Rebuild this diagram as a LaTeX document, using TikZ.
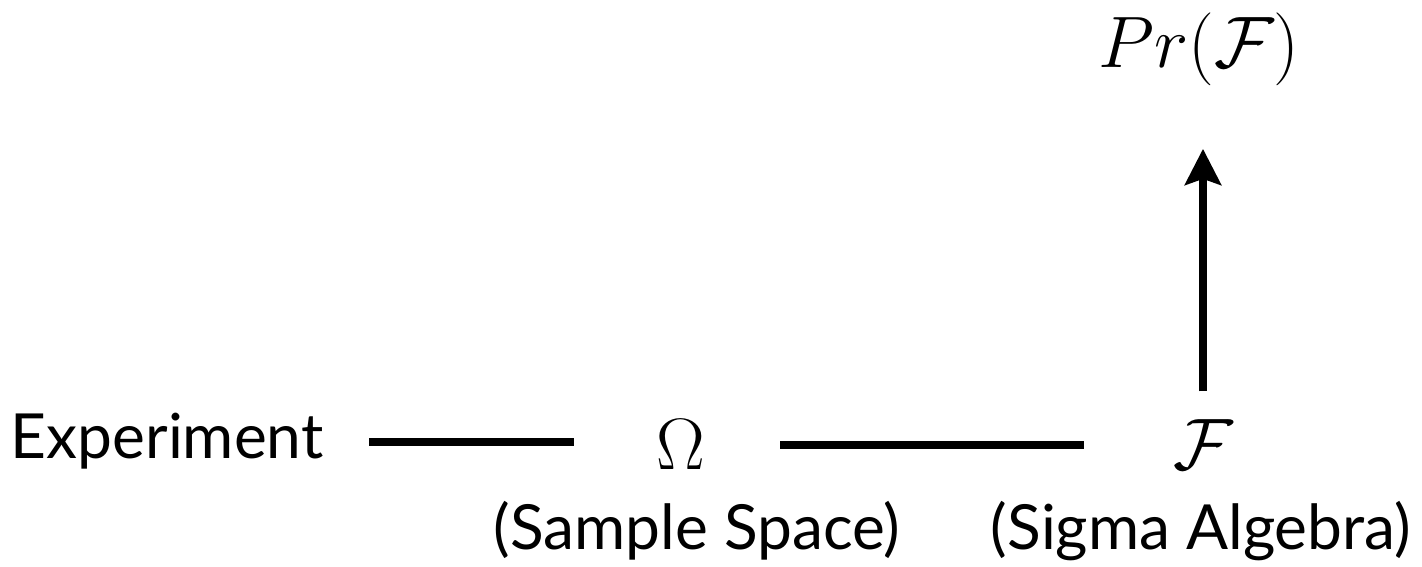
\documentclass[tikz,border=0pt]{standalone}
\usepackage{amsmath}
\usepackage{fontspec}
\setmainfont{Lato}
\usetikzlibrary{positioning, arrows.meta, calc}

\begin{document}
\begin{tikzpicture}[
        lbl/.style={inner sep=0pt, font=\fontsize{17.7}{20}\selectfont},
        sym/.style={inner sep=0pt, font=\fontsize{22.7}{26}\selectfont},
        link/.style={line width=0.08cm}
    ]
        \useasboundingbox (0,0) rectangle (14.22,-5.67);
        % bottom row
        \node[lbl, anchor=base west] (exp) at (0.10,-4.59) {Experiment};
        \node[sym, anchor=base] (omega) at (6.81,-4.70) {$\Omega$};
        \node[sym, anchor=base] (sigalg) at (12.03,-4.70) {$\mathcal{F}$};
        \node[lbl, anchor=base] (omegatxt) at (6.97,-5.50) {(Sample Space)};
        \node[lbl, anchor=base] (sigalgtxt) at (12.01,-5.50) {(Sigma Algebra)};
        % measure on top
        \node[inner sep=0pt, anchor=base, font=\fontsize{20.7}{24}\selectfont] (prob) at (11.99,-0.68) {$Pr(\mathcal{F})$};
        \draw[link, shorten <=0.45cm, shorten >=0.82cm] (exp.east) -- (exp.east -| omega.west);
        \draw[link, shorten <=0.74cm, shorten >=0.88cm] (omega.east) -- (omega.east -| sigalg.west);
        \draw[link, -{Stealth[length=0.36cm, width=0.36cm, inset=0.06cm]}, shorten <=0.28cm, shorten >=0.62cm] (sigalg.north) -- (sigalg.north |- prob.south);
    \end{tikzpicture}
\end{document}
